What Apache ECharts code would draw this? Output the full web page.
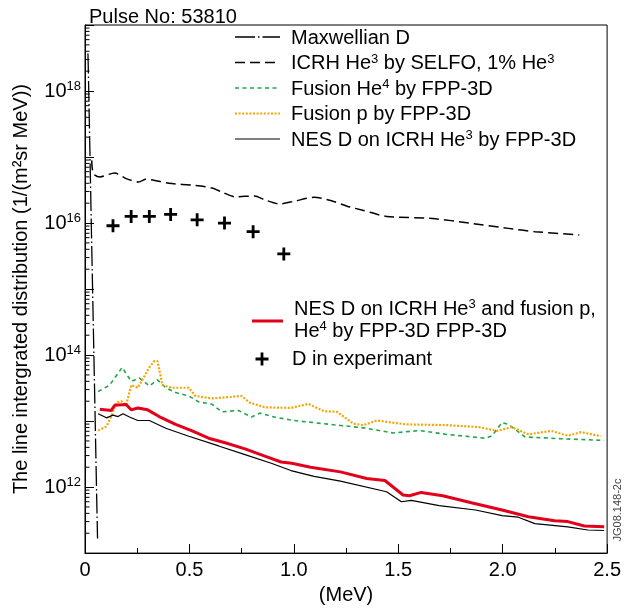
<!DOCTYPE html>
<html><head><meta charset="utf-8">
<script src="https://cdn.jsdelivr.net/npm/echarts@6/dist/echarts.min.js"></script>
<style>html,body{margin:0;padding:0;background:#fff}#c{width:624px;height:610px}</style>
</head><body><div id="c"></div>
<script>
// ---------------- data (energy in MeV, value in 1/(m^2 sr MeV)) ----------------
const maxwellianD = [[0.0142,3.7e18],[0.018,1.0e18],[0.024,1.0e17],[0.030,1.0e16],[0.0426,1.0e14],[0.055,1.0e12],[0.060,1.66e11]];
const icrhSelfo = [[0.032,8.9e16],[0.040,5.6e16],[0.071,5.0e16],[0.142,5.75e16],[0.197,4.7e16],[0.257,4.2e16],[0.292,4.6e16],[0.402,4.0e16],[0.529,3.7e16],[0.608,3.4e16],[0.655,2.95e16],[0.718,2.5e16],[0.813,2.57e16],[0.861,2.24e16],[0.931,1.95e16],[1.002,2.14e16],[1.097,2.45e16],[1.176,2.2e16],[1.255,1.8e16],[1.334,1.55e16],[1.444,1.26e16],[1.665,1.17e16],[1.839,1.0e16],[2.028,8.3e15],[2.154,7.4e15],[2.367,6.6e15]];
const fusionHe4 = [[0.063,2.8e13],[0.118,3.5e13],[0.178,6.5e13],[0.221,4.0e13],[0.26,4.5e13],[0.308,3.4e13],[0.347,4.2e13],[0.387,3.2e13],[0.434,2.7e13],[0.497,2.4e13],[0.545,1.95e13],[0.608,1.8e13],[0.655,1.38e13],[0.734,1.45e13],[0.797,1.15e13],[0.837,1.32e13],[0.908,1.15e13],[1.0,1.02e13],[1.176,8.9e12],[1.334,7.9e12],[1.476,6.6e12],[1.602,7.2e12],[1.728,6.3e12],[1.918,5.5e12],[1.949,6.0e12],[1.997,9.5e12],[2.028,8.9e12],[2.107,5.75e12],[2.281,5.4e12],[2.486,5.1e12]];
const fusionP = [[0.063,7.2e12],[0.103,8.3e12],[0.126,1.17e13],[0.150,1.9e13],[0.174,2.0e13],[0.197,1.74e13],[0.221,3.5e13],[0.253,3.2e13],[0.276,4.3e13],[0.308,6.5e13],[0.331,8.1e13],[0.347,8.1e13],[0.371,3.5e13],[0.418,3.2e13],[0.497,3.2e13],[0.529,2.4e13],[0.608,2.2e13],[0.75,2.4e13],[0.789,1.9e13],[0.861,1.62e13],[0.986,1.58e13],[1.07,1.82e13],[1.144,1.41e13],[1.207,1.38e13],[1.286,9.1e12],[1.334,8.7e12],[1.397,1.02e13],[1.539,8.9e12],[1.728,8.7e12],[1.886,8.1e12],[1.973,7.1e12],[2.044,8.1e12],[2.123,6.3e12],[2.233,7.1e12],[2.312,6.0e12],[2.375,6.8e12],[2.47,5.9e12]];
const nesIcrh = [[0.063,1.29e13],[0.103,1.12e13],[0.134,1.23e13],[0.158,1.17e13],[0.182,1.29e13],[0.213,1.15e13],[0.253,1.02e13],[0.308,1.02e13],[0.387,7.8e12],[0.497,5.9e12],[0.64,4.2e12],[0.766,3.1e12],[0.892,2.3e12],[0.986,1.78e12],[1.097,1.45e12],[1.223,1.23e12],[1.444,8.5e11],[1.515,6.0e11],[1.562,6.3e11],[1.696,5.25e11],[1.87,4.5e11],[1.997,3.7e11],[2.075,3.5e11],[2.154,2.8e11],[2.312,2.5e11],[2.407,2.24e11],[2.486,2.2e11]];
const nesTotal = [[0.071,1.51e13],[0.126,1.45e13],[0.142,1.74e13],[0.197,1.78e13],[0.221,1.48e13],[0.253,1.58e13],[0.30,1.48e13],[0.355,1.17e13],[0.434,8.9e12],[0.513,7.1e12],[0.592,5.5e12],[0.671,4.7e12],[0.766,3.8e12],[0.861,2.95e12],[0.939,2.4e12],[0.99,2.3e12],[1.08,2.0e12],[1.223,1.7e12],[1.349,1.35e12],[1.436,1.26e12],[1.523,7.6e11],[1.554,7.4e11],[1.61,8.3e11],[1.713,7.4e11],[1.855,5.75e11],[1.997,4.5e11],[2.123,3.55e11],[2.249,3.1e11],[2.312,3.0e11],[2.391,2.57e11],[2.486,2.5e11]];
const dExperiment = [[0.134,9.1e15],[0.221,1.26e16],[0.308,1.26e16],[0.41,1.35e16],[0.537,1.12e16],[0.668,1.0e16],[0.805,7.4e15],[0.952,3.4e15]];

const titleText = 'Pulse No: 53810';
const xAxisName = '(MeV)';
const yAxisName = 'The line intergrated distribution (1/(m²sr MeV))';
const legendTop = ['{a|Maxwellian D}', '{a|ICRH He}{s|3}{a| by SELFO, 1% He}{s|3}', '{a|Fusion He}{s|4}{a| by FPP-3D}', '{a|Fusion p by FPP-3D}', '{a|NES D on ICRH He}{s|3}{a| by FPP-3D}'];
const legendRedLines = ['{a|NES D on ICRH He}{s|3}{a| and fusion p,}', '{a|He}{s|4}{a| by FPP-3D FPP-3D}'];
const legendPlus = '{a|D in experimant}';
const sideNote = 'JG08.148-2c';
const logMinorMultipliers = [2,3,4,5,6,7,8,9];
const yDecades = [11,12,13,14,15,16,17,18];

// ---------------- chart ----------------
const FONT = '"Liberation Sans", Arial, sans-serif';
const rich = {
  a: {fontSize: 20, lineHeight: 22, fontFamily: FONT, color: '#000'},
  s: {fontSize: 13, lineHeight: 14, verticalAlign: 'top', fontFamily: FONT, color: '#000'},
  b: {fontSize: 20, lineHeight: 22, fontFamily: FONT, color: '#000'}
};
const PLUS = 'path://M5.1,0h2.8v5.1h5.1v2.8h-5.1v5.1h-2.8v-5.1h-5.1v-2.8h5.1z';

const minorTicks = [];
yDecades.forEach(n => logMinorMultipliers.forEach(k => minorTicks.push([0, k * Math.pow(10, n)])));

const lineStyles = [
  {data: maxwellianD, color: '#000', width: 1.3, type: [20, 3, 1.5, 3]},
  {data: icrhSelfo, color: '#000', width: 1.5, type: [10, 5], smooth: 0.25},
  {data: fusionHe4, color: '#1fa64b', width: 1.6, type: [4, 3.5]},
  {data: fusionP, color: '#f5a400', width: 2.2, type: [2, 1.6]},
  {data: nesIcrh, color: '#000', width: 1.2, type: 'solid'},
  {data: nesTotal, color: '#e2001a', width: 3, type: 'solid'}
];

const series = lineStyles.map((s, i) => ({
  type: 'line', data: s.data, symbol: 'none', smooth: s.smooth || false, z: 2 + i,
  lineStyle: {color: s.color, width: s.width, type: s.type}, silent: true
}));
series.push({
  type: 'scatter', data: dExperiment, symbol: PLUS, symbolSize: 13,
  itemStyle: {color: '#000', opacity: 1}, z: 10, silent: true
});
series.push({
  type: 'custom', data: minorTicks, silent: true, clip: false, z: 11,
  encode: {x: 0, y: 1},
  renderItem: (params, api) => {
    const p = api.coord([api.value(0), api.value(1)]);
    return {type: 'line', shape: {x1: p[0], y1: p[1], x2: p[0] + 4.5, y2: p[1]}, style: {stroke: '#000', lineWidth: 1}};
  }
});

// legend graphics
const graphic = [];
const rowY = [37, 62.5, 88, 113.5, 139];
lineStyles.slice(0, 5).forEach((s, i) => {
  graphic.push({type: 'line', shape: {x1: 235, y1: rowY[i], x2: 280, y2: rowY[i]},
    style: {stroke: s.color, lineWidth: s.width, lineDash: s.type === 'solid' ? null : s.type}});
  graphic.push({type: 'text', x: 291, y: rowY[i] + 1,
    style: {text: legendTop[i], rich: rich, verticalAlign: 'middle', align: 'left'}});
});
graphic.push({type: 'line', shape: {x1: 252, y1: 321, x2: 283, y2: 321},
  style: {stroke: '#e2001a', lineWidth: 3}});
graphic.push({type: 'text', x: 294, y: 309, style: {text: legendRedLines[0], rich: rich, verticalAlign: 'middle'}});
graphic.push({type: 'text', x: 294, y: 331, style: {text: legendRedLines[1], rich: rich, verticalAlign: 'middle'}});
const pcx = 262, pcy = 359, pa = 6.5, pt = 1.4;
graphic.push({type: 'polygon', shape: {points: [
  [pcx - pt, pcy - pa], [pcx + pt, pcy - pa], [pcx + pt, pcy - pt], [pcx + pa, pcy - pt], [pcx + pa, pcy + pt],
  [pcx + pt, pcy + pt], [pcx + pt, pcy + pa], [pcx - pt, pcy + pa], [pcx - pt, pcy + pt], [pcx - pa, pcy + pt],
  [pcx - pa, pcy - pt], [pcx - pt, pcy - pt]]}, style: {fill: '#000'}});
graphic.push({type: 'text', x: 292, y: 359, style: {text: legendPlus, rich: rich, verticalAlign: 'middle'}});
graphic.push({type: 'text', x: 618, y: 510, rotation: Math.PI / 2,
  style: {text: sideNote, fontSize: 11, fontFamily: FONT, fill: '#444', align: 'center', verticalAlign: 'middle'}});

const chart = echarts.init(document.getElementById('c'), null, {renderer: 'canvas'});
chart.setOption({
  animation: false,
  backgroundColor: '#fff',
  textStyle: {fontFamily: FONT},
  title: {text: titleText, left: 84, top: 2, textStyle: {fontSize: 20, fontWeight: 'normal', color: '#000', fontFamily: FONT}},
  grid: {left: 85, right: 11, top: 25, bottom: 56, show: true, borderColor: '#000', borderWidth: 1, containLabel: false},
  xAxis: {
    type: 'value', min: 0, max: 2.5, interval: 0.5,
    name: xAxisName, nameLocation: 'middle', nameGap: 30,
    nameTextStyle: {fontSize: 20, color: '#000', fontFamily: FONT},
    axisLine: {lineStyle: {color: '#000', width: 1}},
    axisTick: {inside: true, length: 9, lineStyle: {color: '#000'}},
    minorTick: {show: true, splitNumber: 2, length: 5, lineStyle: {color: '#000'}},
    axisLabel: {fontSize: 20, color: '#000', margin: 7, fontFamily: FONT,
      formatter: v => v === 0 ? '0' : v.toFixed(1)},
    splitLine: {show: false}
  },
  yAxis: {
    type: 'log', logBase: 10, min: 1e11, max: 1e19, splitNumber: 8,
    name: yAxisName, nameLocation: 'middle', nameGap: 54,
    nameTextStyle: {fontSize: 20, color: '#000', fontFamily: FONT},
    axisLine: {lineStyle: {color: '#000', width: 1}},
    axisTick: {inside: true, length: 9, lineStyle: {color: '#000'}},
    axisLabel: {margin: 4, rich: rich,
      formatter: v => { const e = Math.round(Math.log10(v)); return e % 2 === 0 ? '{b|10}{s|' + e + '}' : ''; }},
    splitLine: {show: false}, minorTick: {show: false}
  },
  graphic: graphic,
  series: series
});
</script></body></html>
